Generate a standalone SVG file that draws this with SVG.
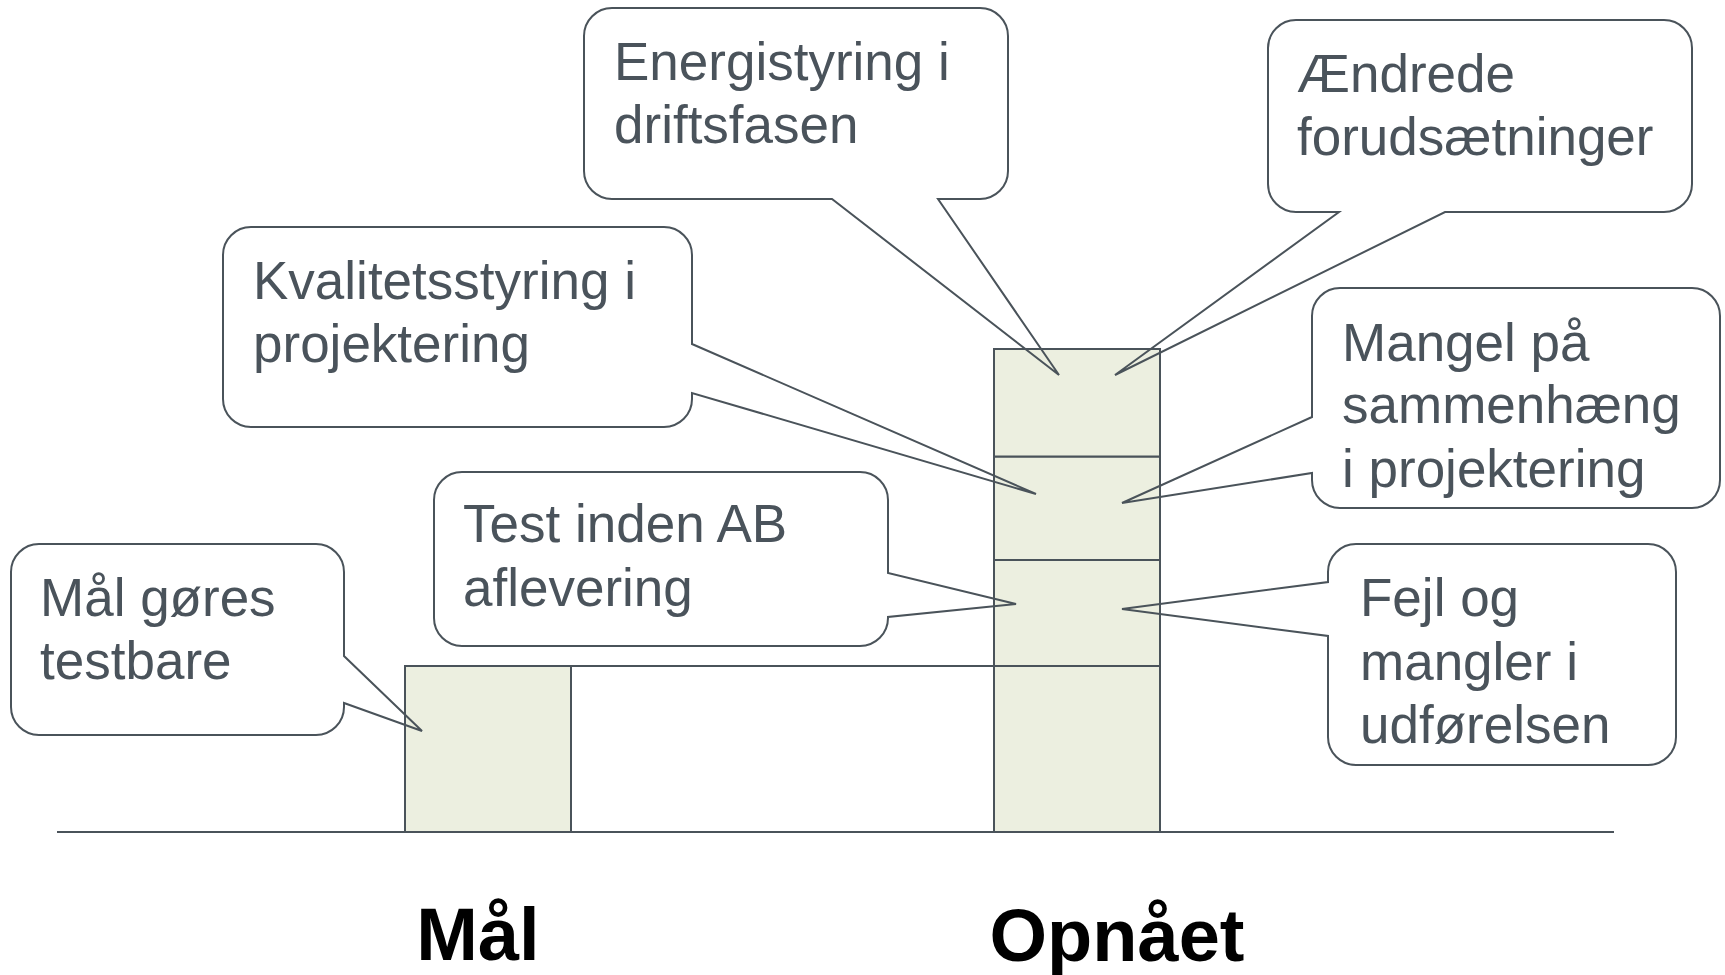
<svg xmlns="http://www.w3.org/2000/svg" width="1725" height="975" viewBox="0 0 1725 975">
<style>
.bar{fill:#ecefe0;stroke:#4a535a;stroke-width:2}
.ln{stroke:#4a535a;stroke-width:2;fill:none}
.bub{fill:none;stroke:#4a535a;stroke-width:2;stroke-linejoin:miter}
.t{font-family:"Liberation Sans",Arial,sans-serif;font-size:53px;fill:#4a535b}
.lbl{font-family:"Liberation Sans",Arial,sans-serif;font-size:74px;font-weight:bold;fill:#000;text-anchor:middle}
</style>
<rect width="1725" height="975" fill="#fff"/>
<g id="axis">
<line class="ln" x1="57" y1="832" x2="1614" y2="832"/>
</g>
<g id="bar-maal">
<rect class="bar" x="405" y="666" width="166" height="166"/>
</g>
<g id="bar-opnaaet">
<rect class="bar" x="994" y="666" width="166" height="166"/>
<rect class="bar" x="994" y="560" width="166" height="106"/>
<rect class="bar" x="994" y="456.5" width="166" height="103.5"/>
<rect class="bar" x="994" y="349" width="166" height="107.5"/>
</g>
<g id="connectors">
<line class="ln" x1="571" y1="666" x2="994" y2="666"/>
</g>
<g id="bubble-maal-goeres">
<path class="bub" d="M39,544 H316 A28,28 0 0 1 344,572 V656 L422,731 L344,703 V707 A28,28 0 0 1 316,735 H39 A28,28 0 0 1 11,707 V572 A28,28 0 0 1 39,544 Z"/>
<text class="t" x="40" y="616">Mål gøres</text>
<text class="t" x="40" y="679">testbare</text>
</g>
<g id="bubble-energi">
<path class="bub" d="M612,8 H980 A28,28 0 0 1 1008,36 V171 A28,28 0 0 1 980,199 H938 L1059,375 L832,199 H612 A28,28 0 0 1 584,171 V36 A28,28 0 0 1 612,8 Z"/>
<text class="t" x="614" y="80">Energistyring i</text>
<text class="t" x="614" y="143">driftsfasen</text>
</g>
<g id="bubble-aendrede">
<path class="bub" d="M1296,20 H1664 A28,28 0 0 1 1692,48 V184 A28,28 0 0 1 1664,212 H1445 L1115,375 L1339,212 H1296 A28,28 0 0 1 1268,184 V48 A28,28 0 0 1 1296,20 Z"/>
<text class="t" x="1297" y="92">Ændrede</text>
<text class="t" x="1297" y="155">forudsætninger</text>
</g>
<g id="bubble-kvalitet">
<path class="bub" d="M251,227 H664 A28,28 0 0 1 692,255 V344 L1036,494 L692,393 V399 A28,28 0 0 1 664,427 H251 A28,28 0 0 1 223,399 V255 A28,28 0 0 1 251,227 Z"/>
<text class="t" x="253" y="299">Kvalitetsstyring i</text>
<text class="t" x="253" y="362">projektering</text>
</g>
<g id="bubble-test">
<path class="bub" d="M462,472 H860 A28,28 0 0 1 888,500 V573 L1016,604 L888,617 V618 A28,28 0 0 1 860,646 H462 A28,28 0 0 1 434,618 V500 A28,28 0 0 1 462,472 Z"/>
<text class="t" x="463" y="542">Test inden AB</text>
<text class="t" x="463" y="606">aflevering</text>
</g>
<g id="bubble-mangel">
<path class="bub" d="M1340,288 H1692 A28,28 0 0 1 1720,316 V480 A28,28 0 0 1 1692,508 H1340 A28,28 0 0 1 1312,480 V473 L1122,503 L1312,417 V316 A28,28 0 0 1 1340,288 Z"/>
<text class="t" x="1342" y="361">Mangel på</text>
<text class="t" x="1342" y="423">sammenhæng</text>
<text class="t" x="1342" y="487">i projektering</text>
</g>
<g id="bubble-fejl">
<path class="bub" d="M1356,544 H1648 A28,28 0 0 1 1676,572 V737 A28,28 0 0 1 1648,765 H1356 A28,28 0 0 1 1328,737 V636 L1122,609 L1328,582 V572 A28,28 0 0 1 1356,544 Z"/>
<text class="t" x="1360" y="616">Fejl og</text>
<text class="t" x="1360" y="680">mangler i</text>
<text class="t" x="1360" y="743">udførelsen</text>
</g>
<g id="label-maal">
<text class="lbl" x="478" y="960">Mål</text>
</g>
<g id="label-opnaaet">
<text class="lbl" x="1117" y="961">Opnået</text>
</g>
</svg>
